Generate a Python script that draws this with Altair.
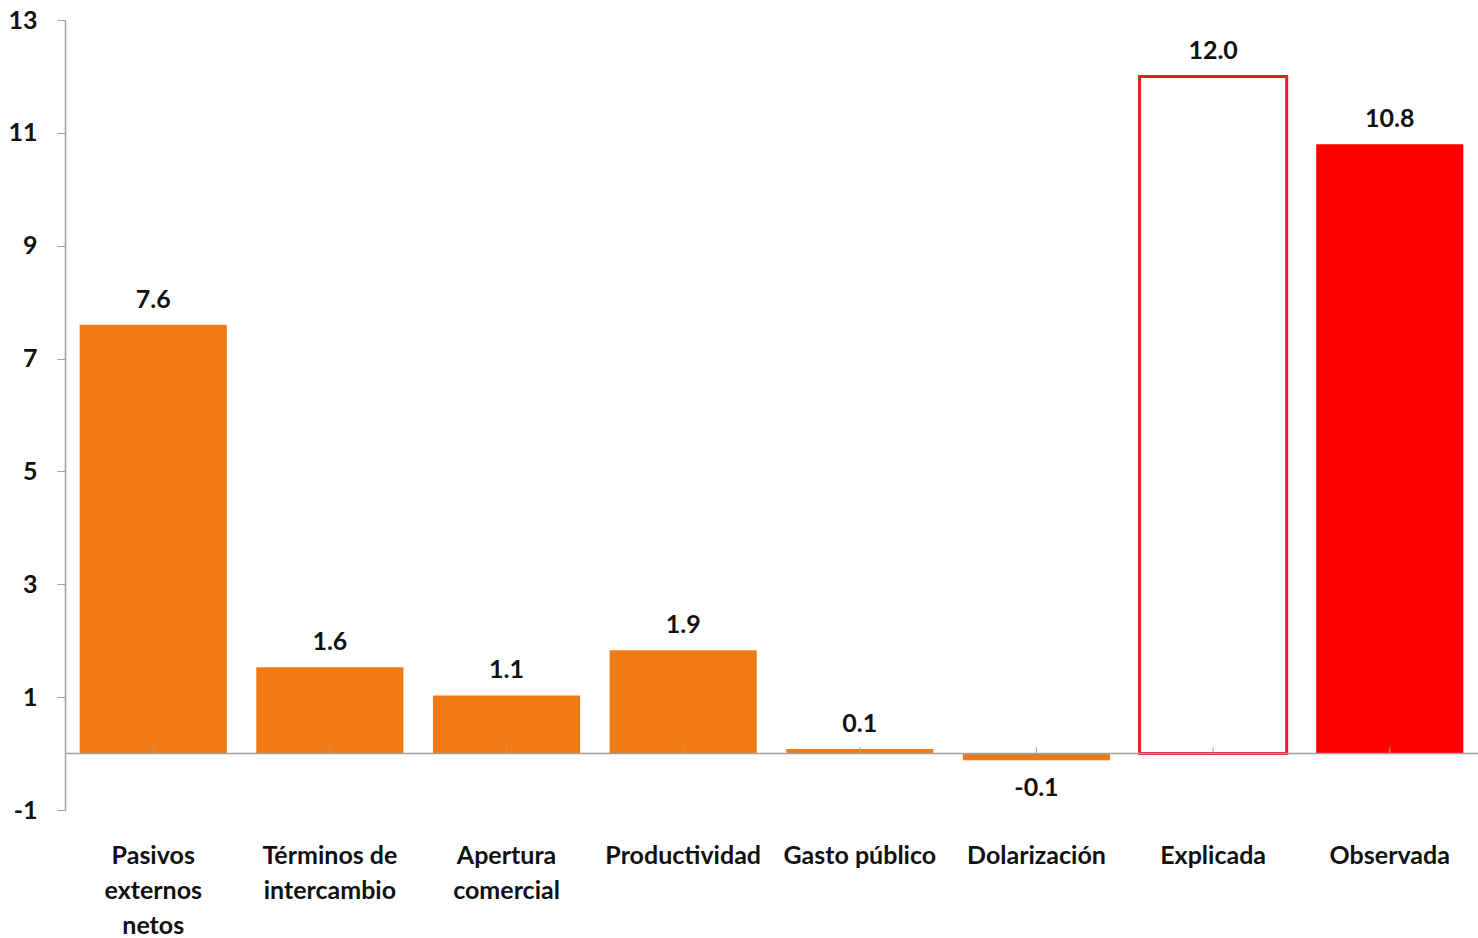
import altair as alt
import pandas as pd

categories = ["Pasivos|externos|netos", "Términos de|intercambio", "Apertura|comercial",
              "Productividad", "Gasto público", "Dolarización", "Explicada", "Observada"]
values = [7.6, 1.53, 1.03, 1.83, 0.08, -0.12, 12.0, 10.8]
labels = ["7.6", "1.6", "1.1", "1.9", "0.1", "-0.1", "12.0", "10.8"]
kinds = ["factor", "factor", "factor", "factor", "factor", "factor", "explicada", "observada"]
y_ticks = [-1, 1, 3, 5, 7, 9, 11, 13]

ORANGE = "#F07A14"
RED = "#FF0000"
RED_EDGE = "#E02222"
GRAY = "#A0A0A0"
FONT = "Lato"
FS = 25

df = pd.DataFrame({"cat": categories, "value": values, "label": labels, "kind": kinds})

x = alt.X("cat:N", sort=categories, title=None,
          scale=alt.Scale(paddingInner=0.167, paddingOuter=0.083),
          axis=alt.Axis(labelExpr="split(datum.label, '|')", labelAngle=0, ticks=False,
                        domain=False, labelPadding=33, labelLineHeight=35,
                        labelFont=FONT, labelFontSize=FS, labelFontWeight="bold",
                        labelColor="#111111", labelBaseline="top"))
y = alt.Y("value:Q", title=None,
          scale=alt.Scale(domain=[-1, 13], nice=False, zero=False),
          axis=alt.Axis(values=y_ticks, labelExpr="toString(datum.value)", grid=False,
                        domainColor=GRAY, tickColor=GRAY,
                        tickSize=8, labelPadding=20, labelFont=FONT, labelFontSize=FS,
                        labelFontWeight="bold", labelColor="#111111", domainWidth=1.5))

base = alt.Chart(df)

filled = base.transform_filter("datum.kind != 'explicada'").mark_bar().encode(
    x=x, y=y, y2=alt.datum(0),
    color=alt.Color("kind:N", scale=alt.Scale(domain=["factor", "observada"], range=[ORANGE, RED]),
                    legend=None))

empty = base.transform_filter("datum.kind == 'explicada'").mark_bar(
    fill="white", stroke=RED_EDGE, strokeWidth=3).encode(x=x, y=y, y2=alt.datum(0))

zero = alt.Chart(pd.DataFrame({"z": [0]})).mark_rule(color=GRAY, strokeWidth=1.5).encode(
    y=alt.Y("z:Q", scale=alt.Scale(domain=[-1, 13], nice=False, zero=False)))

ticks = base.mark_rule(color=GRAY, strokeWidth=1).encode(
    x=alt.X("cat:N", sort=categories), y=alt.datum(0), y2=alt.datum(0.11))

pos_text = base.transform_filter("datum.value >= 0").mark_text(
    baseline="bottom", dy=-12, font=FONT, fontSize=FS, fontWeight="bold", color="#111111").encode(
    x=alt.X("cat:N", sort=categories), y="value:Q", text="label:N")

neg_text = base.transform_filter("datum.value < 0").mark_text(
    baseline="top", dy=16, font=FONT, fontSize=FS, fontWeight="bold", color="#111111").encode(
    x=alt.X("cat:N", sort=categories), y="value:Q", text="label:N")

chart = alt.layer(filled, empty, zero, ticks, pos_text, neg_text).properties(
    width=1413, height=790,
    padding={"left": 65, "top": 20, "right": 0, "bottom": 128},
    autosize=alt.AutoSizeParams(type="none"),
    background="white",
).configure_view(stroke=None)

chart.save("out.html", embed_options={"renderer": "svg", "actions": False})
